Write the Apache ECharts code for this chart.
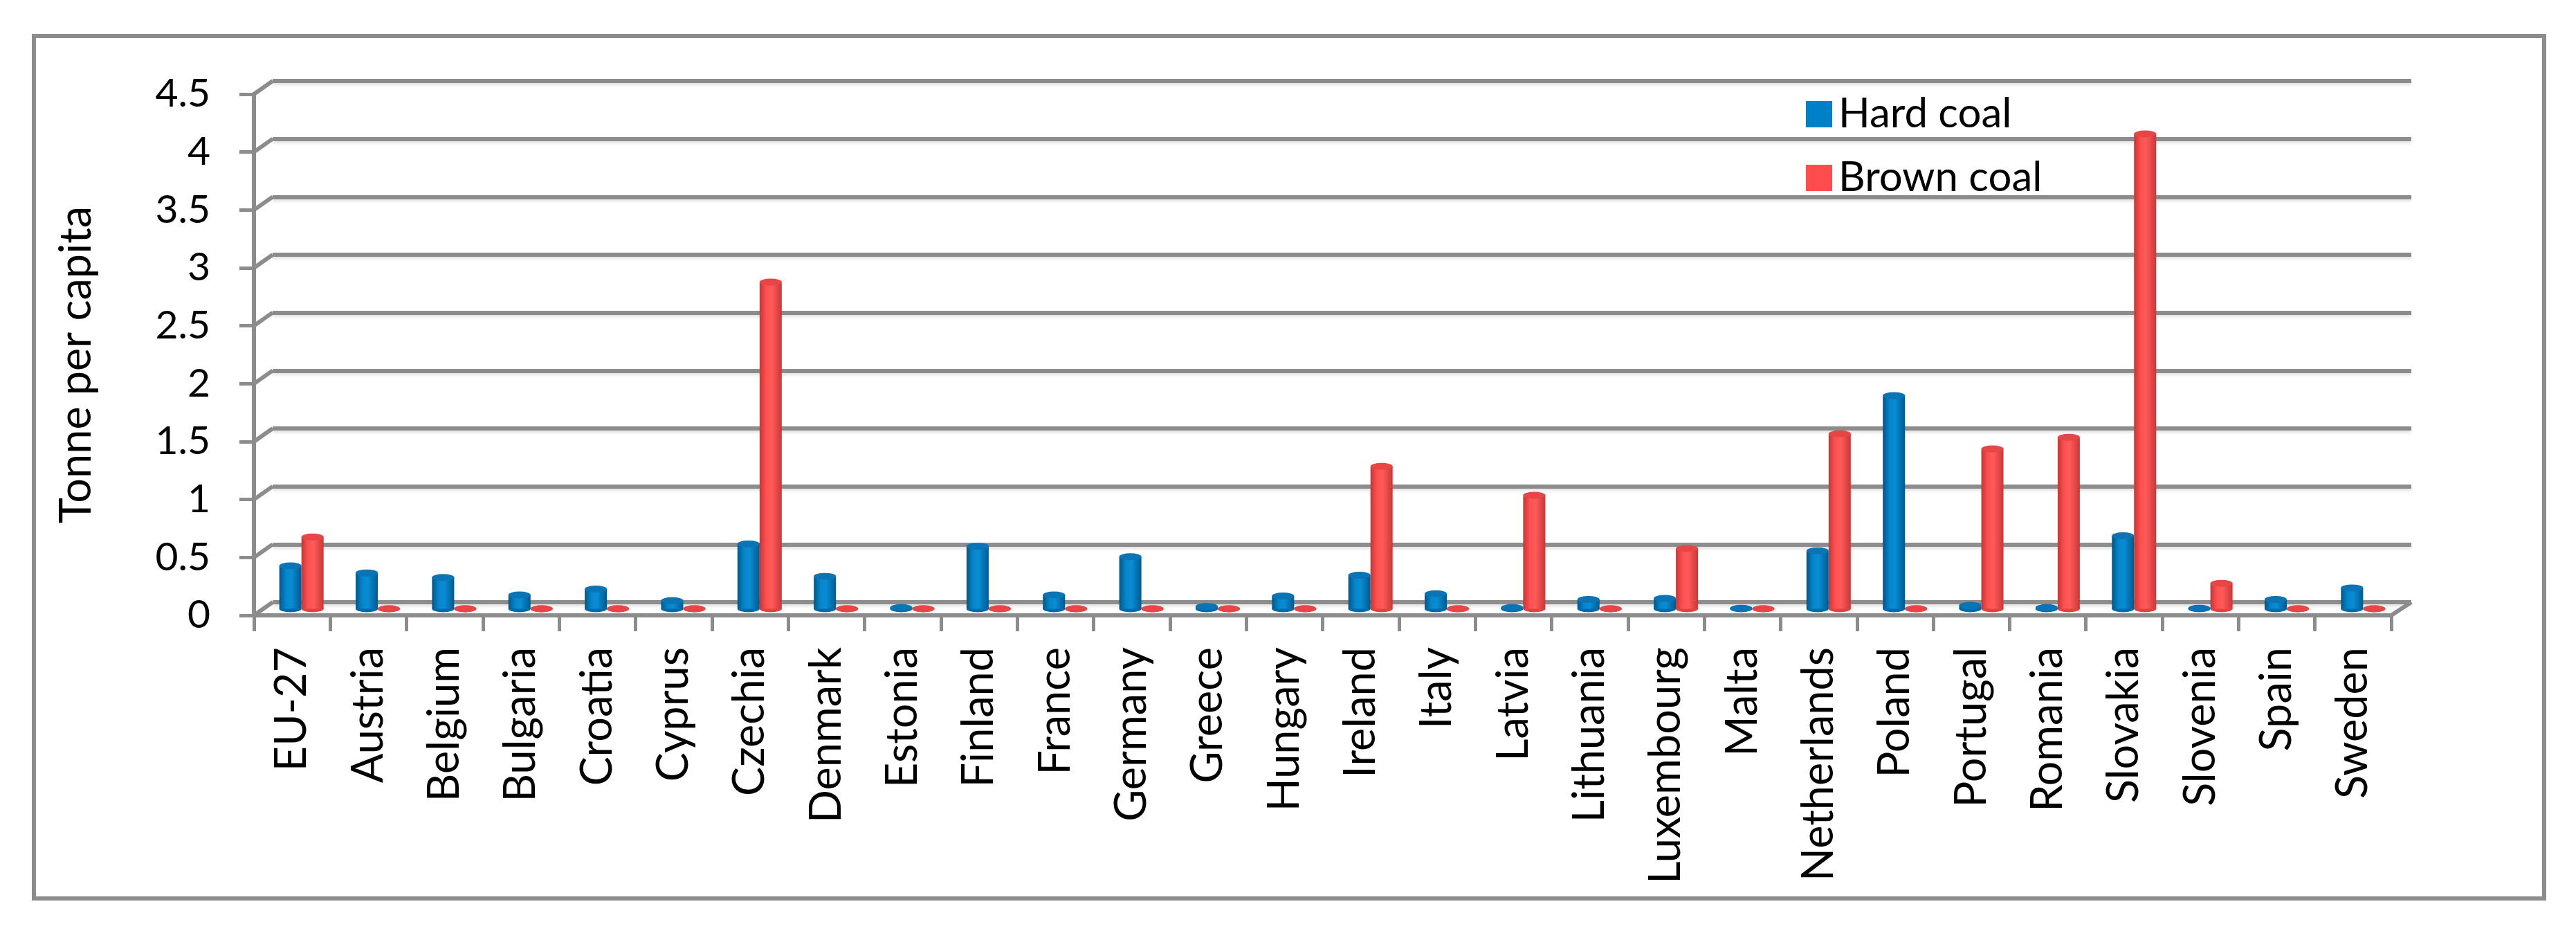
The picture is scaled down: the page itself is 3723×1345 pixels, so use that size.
<!DOCTYPE html>
<html><head><meta charset="utf-8">
<script src="https://cdn.jsdelivr.net/npm/echarts@6/dist/echarts.min.js"></script>
<style>html,body{margin:0;padding:0;background:#fff}#c{width:3723px;height:1345px}</style>
</head><body><div id="c"></div>
<script>
const categories = ['EU-27','Austria','Belgium','Bulgaria','Croatia','Cyprus','Czechia','Denmark','Estonia','Finland','France','Germany','Greece','Hungary','Ireland','Italy','Latvia','Lithuania','Luxembourg','Malta','Netherlands','Poland','Portugal','Romania','Slovakia','Slovenia','Spain','Sweden'];
const hardCoal = [0.37,0.31,0.27,0.12,0.17,0.07,0.56,0.28,0.01,0.54,0.12,0.45,0.02,0.11,0.29,0.13,0.01,0.08,0.09,0.005,0.50,1.84,0.03,0.01,0.63,0.005,0.08,0.18];
const brownCoal = [0.62,0,0,0,0,0,2.82,0,0,0,0,0,0,0,1.23,0,0.98,0,0.52,0,1.51,0,1.38,1.48,4.10,0.22,0,0];
const yMin = 0, yMax = 4.5, yStep = 0.5;
const seriesNames = ['Hard coal','Brown coal'];
const yTitle = 'Tonne per capita';

const W = 3723, H = 1345;
const front = {left:367, right:W-3456, top:136, bottom:H-889};
const back  = {left:394, right:W-3485, top:117, bottom:H-870};
const mid   = {left:380.5, right:W-3470.5, top:126.5, bottom:H-879.5};
const GRAY = '#8c8c8c';
const BLUE = '#0080c6', RED = '#ff4d4d';
const BW = 32;
const FONT = 'Lato';

const blueGrad = new echarts.graphic.LinearGradient(0,0,1,0,[
  {offset:0,color:'#00578a'},{offset:0.3,color:'#0586cc'},{offset:0.55,color:'#0a8dd4'},{offset:1,color:'#005a8f'}]);
const redGrad = new echarts.graphic.LinearGradient(0,0,1,0,[
  {offset:0,color:'#c73535'},{offset:0.3,color:'#ff5050'},{offset:0.55,color:'#ff5a5a'},{offset:1,color:'#c93838'}]);

const chart = echarts.init(document.getElementById('c'), null, {renderer:'canvas'});
const lbl = {color:'#000', fontFamily:FONT};
const opt = {
  animation:false,
  backgroundColor:'#fff',
  grid:[
    Object.assign({outerBoundsMode:'none'}, front),
    Object.assign({outerBoundsMode:'none'}, back),
    Object.assign({outerBoundsMode:'none'}, mid)
  ],
  xAxis:[
    {type:'category', gridIndex:0, data:categories, boundaryGap:true,
     axisLine:{show:true, lineStyle:{color:GRAY, width:6}},
     axisTick:{show:true, interval:0, length:23, lineStyle:{color:GRAY, width:5}},
     axisLabel:Object.assign({interval:0, rotate:90, fontSize:63, margin:46}, lbl),
     splitLine:{show:false}},
    {type:'category', gridIndex:1, data:categories, show:false},
    {type:'category', gridIndex:2, data:categories, show:false}
  ],
  yAxis:[
    {type:'value', gridIndex:0, min:yMin, max:yMax, interval:yStep,
     axisLine:{show:true, lineStyle:{color:GRAY, width:6}},
     axisTick:{show:true, length:21, lineStyle:{color:GRAY, width:5}},
     axisLabel:Object.assign({fontSize:57, margin:63}, lbl),
     splitLine:{show:false}},
    {type:'value', gridIndex:1, min:yMin, max:yMax, interval:yStep,
     axisLine:{show:false}, axisTick:{show:false}, axisLabel:{show:false},
     splitLine:{show:true, lineStyle:{color:GRAY, width:6, shadowColor:'rgba(0,0,0,0.12)', shadowBlur:4, shadowOffsetY:3}}},
    {type:'value', gridIndex:2, min:yMin, max:yMax, interval:yStep, show:false, splitLine:{show:false}}
  ],
  legend:{
    orient:'vertical', left:2605, top:130, itemWidth:38, itemHeight:38, itemGap:32,
    icon:'rect',
    textStyle:{fontFamily:FONT, fontSize:60, lineHeight:60, color:'#000', padding:[0,0,0,4]},
    data:[{name:seriesNames[0], itemStyle:{color:BLUE}},{name:seriesNames[1], itemStyle:{color:RED}}]
  },
  series:[
    {name:seriesNames[0], type:'bar', xAxisIndex:2, yAxisIndex:2, data:hardCoal, barWidth:BW, barGap:'0%', z:3,
     itemStyle:{color:blueGrad}},
    {name:seriesNames[1], type:'bar', xAxisIndex:2, yAxisIndex:2, data:brownCoal, barWidth:BW, barGap:'0%', z:3,
     itemStyle:{color:redGrad}},
    {name:seriesNames[0], type:'pictorialBar', xAxisIndex:2, yAxisIndex:2, data:hardCoal, symbol:'circle',
     symbolSize:[BW,10], symbolPosition:'start', symbolOffset:[-BW/2,'50%'], z:2, itemStyle:{color:'#006aa8'}},
    {name:seriesNames[1], type:'pictorialBar', xAxisIndex:2, yAxisIndex:2, data:brownCoal, symbol:'circle',
     symbolSize:[BW,10], symbolPosition:'start', symbolOffset:[BW/2,'50%'], z:2, itemStyle:{color:'#e04242'}},
    {name:seriesNames[0], type:'pictorialBar', xAxisIndex:2, yAxisIndex:2, data:hardCoal, symbol:'circle',
     symbolSize:[BW,10], symbolPosition:'end', symbolOffset:[-BW/2,'-50%'], z:4, itemStyle:{color:'#0a74b5'}},
    {name:seriesNames[1], type:'pictorialBar', xAxisIndex:2, yAxisIndex:2, data:brownCoal, symbol:'circle',
     symbolSize:[BW,10], symbolPosition:'end', symbolOffset:[BW/2,'-50%'], z:4, itemStyle:{color:'#e84646'}}
  ]
};
chart.setOption(opt);

// 3D decorations derived from the axes
const gfx = [];
gfx.push({type:'rect', shape:{x:49, y:52, width:3628, height:1246}, style:{fill:null, stroke:GRAY, lineWidth:6}, z:0});
for (let v = yMin; v <= yMax + 1e-9; v += yStep) {
  const yf = chart.convertToPixel({yAxisIndex:0}, v);
  const yb = chart.convertToPixel({yAxisIndex:1}, v);
  gfx.push({type:'line', shape:{x1:front.left, y1:yf, x2:back.left, y2:yb}, style:{stroke:GRAY, lineWidth:6}, z:1});
}
{
  const yf = chart.convertToPixel({yAxisIndex:0}, yMin);
  const yb = chart.convertToPixel({yAxisIndex:1}, yMin);
  gfx.push({type:'line', shape:{x1:W-front.right, y1:yf, x2:W-back.right, y2:yb}, style:{stroke:GRAY, lineWidth:6}, z:1});
}
gfx.push({type:'text', x:111, y:527, rotation:Math.PI/2,
  style:{text:yTitle, fontFamily:FONT, fontSize:63, fill:'#000', textAlign:'center', textVerticalAlign:'middle'}});
chart.setOption({graphic:gfx});
</script></body></html>
